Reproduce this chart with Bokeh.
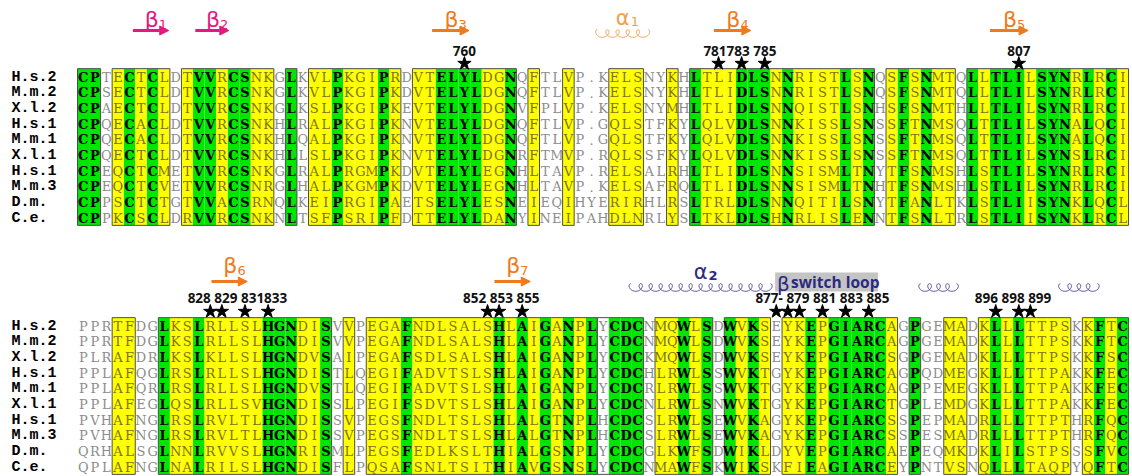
import numpy as np
from bokeh.plotting import figure
from bokeh.models import Range1d, Arrow, NormalHead
from bokeh.embed import file_html
from bokeh.resources import INLINE
from bokeh.core.properties import value

# ---------------- data ----------------
names = ["H.s.2", "M.m.2", "X.l.2", "H.s.1", "M.m.1", "X.l.1", "H.s.1", "M.m.3", "D.m.", "C.e."]

top_seqs = [
    "CPTECTCLDTVVRCSNKGLKVLPKGIPRDVTELYLDGNQFTLVP.KELSNYKHLTLIDLSNNRISTLSNQSFSNMTQLLTLILSYNRLRCI",
    "CPSECTCLDTVVRCSNKGLKVLPKGIPKDVTELYLDGNQFTLVP.KELSNYKHLTLIDLSNNRISTLSNQSFSNMTQLLTLILSYNRLRCI",
    "CPAECTCLDTVVRCSNKGLKSLPKGIPKEVTELYLDGNVFPLVP.KELSNYMHLTLIDLSNNQISTLSNHSFSNMTHLLTLILSYNRLRCI",
    "CPQECACLDTVVRCSNKHLRALPKGIPKNVTELYLDGNQFTLVP.GQLSTFKYLQLVDLSNNKISSLSNSSFTNMSQLTTLILSYNALQCI",
    "CPQECACLDTVVRCSNKHLQALPKGIPKNVTELYLDGNQFTLVP.GQLSTFKYLQLVDLSNNKISSLSNSSFTNMSQLTTLILSYNALQCI",
    "CPQECTCLDTVVRCSNKHLLSLPKGIPKNVTELYLDGNRFTMVP.RQLSSFKYLQLVDLSNNKISSLSNSSFTNMSQLTTLILSYNSLRCI",
    "CPEQCTCMETVVRCSNKGLRALPRGMPKDVTELYLEGNHLTAVP.RELSALRHLTLIDLSNNSISMLTNYTFSNMSHLSTLILSYNRLRCI",
    "CPEQCTCVETVVRCSNRGLHALPKGMPKDVTELYLEGNHLTAVP.KELSAFRQLTLIDLSNNSISMLTNHTFSNMSHLSTLILSYNRLRCI",
    "CPPSCTCTGTVVACSRNQLKEIPRGIPAETSELYLESNEIEQIHYERIRHLRSLTRLDLSNNQITILSNYTFANLTKLSTLIISYNKLQCL",
    "CPPKCSCLDRVVRCSNKNLTSFPSRIPFDTTELYLDANYINEIPAHDLNRLYSLTKLDLSHNRLISLENNTFSNLTRLSTLIISYNKLRCL",
]
bottom_seqs = [
    "PPRTFDGLKSLRLLSLHGNDISVVPEGAFNDLSALSHLAIGANPLYCDCNMQWLSDWVKSEYKEPGIARCAGPGEMADKLLLTTPSKKFTC",
    "PPRTFDGLKSLRLLSLHGNDISVVPEGAFNDLSALSHLAIGANPLYCDCNMQWLSDWVKSEYKEPGIARCAGPGEMADKLLLTTPSKKFTC",
    "PLRAFDRLKSLKLLSLHGNDVSAIPEGAFSDLSALSHLAIGANPLYCDCKMQWLSDWVKSEYKEPGIARCSGPGEMADKLLLTTPSKKFSC",
    "PPLAFQGLRSLRLLSLHGNDISTLQEGIFADVTSLSHLAIGANPLYCDCHLRWLSSWVKTGYKEPGIARCAGPQDMEGKLLLTTPAKKFEC",
    "PPLAFQRLRSLRLLSLHGNDVSTLQEGIFADVTSLSHLAIGANPLYCDCRLRWLSSWVKTGYKEPGIARCAGPPEMEGKLLLTTPAKKFEC",
    "PPLAFEGLQSLRLLSVHGNDISSLPEGIFSDVTSLSHLAIGANPLYCDCNLRWLSNWVKTGYKEPGIARCTGPLEMDGKLLLTTPAKKFEC",
    "PVHAFNGLRSLRVLTLHGNDISSVPEGSFNDLTSLSHLALGTNPLHCDCSLRWLSEWVKAGYKEPGIARCSSPEPMADRLLLTTPTHRFQC",
    "PVHAFNGLRSLRVLTLHGNDISSVPEGSFNDLTSLSHLALGTNPLHCDCSLRWLSEWVKAGYKEPGIARCSSPESMADRLLLTTPTHRFQC",
    "QRHALSGLNNLRVVSLHGNRISMLPEGSFEDLKSLTHIALGSNPLYCDCGLKWFSDWIKLDYVEPGIARCAEPEQMKDKLILSTPSSSFVC",
    "QPLAFNGLNALRILSLHGNDISFLPQSAFSNLTSITHIAVGSNSLYCDCNMAWFSKWIKSKFIEAGIARCEYPNTVSNQLLLTAQPYQFTC",
]

# column shading: G = identical (green), Y = similar (yellow), W = none
top_cons = ("GGWYGYGYWY" "GGYGGYYWGW" "YYGYYYGYWY" "YGGGGYYGWY" "WWYWWWYYYW"
            "WYWGYYYGGG" "YGYYYYGYGW" "YGYGYYWGYG" "GGYGGGYGYG" "Y")
bottom_cons = ("WWWYYWWGYY" "GYYYYYGGGY" "YGWYWYYYGY" "YYYYYYGYGY" "GYGYGWGGGW"
               "YYGYGWGYGY" "WYYGYGGGGG" "YWGWWYYWYG" "YGYYYYWYGY" "G")

# framed column runs (first, last column, 1-based)
top_boxes = [(1, 2), (4, 8), (10, 17), (19, 19), (21, 28), (30, 38), (40, 40), (43, 43),
             (47, 49), (52, 52), (54, 69), (71, 76), (78, 91)]
bottom_boxes = [(4, 5), (8, 22), (24, 24), (26, 45), (46, 49), (51, 55), (57, 60), (62, 71),
                (73, 73), (76, 77), (79, 86), (88, 91)]

# starred residues (column) and their numbering labels
top_stars = [34, 56, 58, 60, 82]
top_numbers = [("760", 34, 34), ("781783  785", 56, 60), ("807", 82, 82)]
bottom_stars = [12, 13, 15, 17, 36, 37, 39, 61, 62, 63, 65, 67, 69, 80, 82, 83]
bottom_numbers = [("828  829 831833", 12, 17), ("852  853  855", 36, 39),
                  ("877- 879 881 883 885", 61, 69), ("896 898 899", 80, 83)]

# secondary structure: (kind, label, subscript, start edge, end edge, colour)
top_ss = [("strand", "β", "1", 4.8, 7.9, "#e4197d"),
          ("strand", "β", "2", 10.2, 13.1, "#e4197d"),
          ("strand", "β", "3", 30.7, 33.9, "#ee7a1c"),
          ("helix", "α", "1", 45.0, 49.4, "#f0a050"),
          ("strand", "β", "4", 55.1, 58.3, "#ee7a1c"),
          ("strand", "β", "5", 79.0, 82.3, "#ee7a1c")]
bottom_ss = [("strand", "β", "6", 11.6, 14.7, "#ee7a1c"),
             ("strand", "β", "7", 36.1, 39.2, "#ee7a1c"),
             ("helix", "α", "2", 47.9, 60.0, "#4a479a"),
             ("helix", "", "", 73.0, 76.1, "#4a479a"),
             ("helix", "", "", 85.1, 88.3, "#4a479a")]
switch_loop = ("β", "switch loop", 60.4, 69.3)

# ---------------- layout ----------------
W, H = 1132, 476
X0, CW = 77.0, 11.55      # left edge of alignment, column width (px)
RH = 15.67                # row height
TOP_Y0, BOT_Y0 = 76.0, 325.0   # centre of first row of each block

GREEN, YELLOW = "#00e600", "#ffff00"
C_SIM, C_NONE = "#7d7312", "#8c8c8c"
NAVY = "#2b2a7f"
RES_FONT = "DejaVu Serif"

p = figure(width=W, height=H, x_range=Range1d(0, W), y_range=Range1d(H, 0),
           output_backend="svg", toolbar_location=None, min_border=0,
           x_axis_type=None, y_axis_type=None)
p.grid.visible = False
p.outline_line_color = None
p.background_fill_color = "white"


def cx(c):  # centre of 1-based column
    return X0 + (c - 0.5) * CW


def ex(e):  # 0-based column edge
    return X0 + e * CW


def draw_block(seqs, cons, boxes, y0):
    n = len(seqs)
    top = y0 - RH / 2
    bot = y0 + (n - 0.5) * RH
    for cls, col in (("G", GREEN), ("Y", YELLOW)):
        cols = [i + 1 for i, k in enumerate(cons) if k == cls]
        p.quad(left=[ex(c - 1) for c in cols], right=[ex(c) for c in cols],
               top=[top] * len(cols), bottom=[bot] * len(cols),
               fill_color=col, line_color=None)
    p.quad(left=[ex(a - 1) for a, b in boxes], right=[ex(b) for a, b in boxes],
           top=[top] * len(boxes), bottom=[bot] * len(boxes),
           fill_color=None, line_color="#4d4d4d", line_width=1)
    for cls, color, style in (("G", "black", "bold"), ("Y", C_SIM, "normal"), ("W", C_NONE, "normal")):
        xs, ys, ts = [], [], []
        for r, s in enumerate(seqs):
            for i, ch in enumerate(s):
                if cons[i] == cls:
                    xs.append(cx(i + 1)); ys.append(y0 + r * RH + 0.5); ts.append(ch)
        p.text(x=xs, y=ys, text=ts, text_font=value(RES_FONT),
               text_font_size="13px", text_font_style=style, text_color=color,
               text_align="center", text_baseline="middle")
    p.text(x=[11] * n, y=[y0 + r * RH + 0.5 for r in range(n)], text=names,
           text_font=value("Liberation Mono"), text_font_size="15px",
           text_font_style="bold", text_color="black",
           text_align="left", text_baseline="middle")


def draw_marks(stars, numbers, ystar, ynum):
    p.scatter(x=[cx(c) for c in stars], y=[ystar] * len(stars), marker="star",
              size=14, fill_color="black", line_color="black")
    p.text(x=[(cx(a) + cx(b)) / 2 for t, a, b in numbers], y=[ynum] * len(numbers),
           text=[t for t, a, b in numbers], text_font=value("Open Sans"),
           text_font_size="13.5px", text_font_style="bold", text_color="#111111",
           text_align="center", text_baseline="middle")


def coil(x1, x2, yc, color):
    n = max(2, int(round((x2 - x1) / 10.0)))
    a = (x2 - x1) / (2 * np.pi * n)
    b = 3.8
    t = np.linspace(0, 2 * np.pi * n, 60 * n)
    xs = x1 + a * t - b * np.sin(t)
    ys = yc - b * np.cos(t)
    p.line(xs, ys, line_color=color, line_width=1)


def draw_ss(items, ytext, yarrow, ycoil):
    for kind, lab, sub, s, e, color in items:
        x1, x2 = ex(s), ex(e)
        xm = (x1 + x2) / 2
        if kind == "strand":
            p.add_layout(Arrow(end=NormalHead(size=9, fill_color=color, line_color=color),
                               x_start=x1, y_start=yarrow, x_end=x2, y_end=yarrow,
                               line_color=color, line_width=3))
            p.text(x=[xm + 1], y=[ytext], text=[lab], text_font=value("DejaVu Sans"),
                   text_font_size="22px", text_color=color, text_align="center",
                   text_baseline="middle")
            p.text(x=[xm + 8], y=[ytext + 5], text=[sub], text_font=value("DejaVu Sans"),
                   text_font_size="13px", text_color=color, text_align="left",
                   text_baseline="middle")
        else:
            coil(x1, x2, ycoil, color)
            if lab:
                sub_color = color if color == "#f0a050" else NAVY
                lab_color = color if color == "#f0a050" else NAVY
                p.text(x=[xm], y=[ycoil - 16], text=[lab], text_font=value("DejaVu Sans"),
                       text_font_size="21px", text_color=lab_color, text_align="center",
                       text_baseline="middle")
                p.text(x=[xm + 8], y=[ycoil - 12], text=[sub], text_font=value("DejaVu Sans"),
                       text_font_size="13px",
                       text_font_style="normal" if color == "#f0a050" else "bold",
                       text_color=sub_color, text_align="left", text_baseline="middle")


draw_block(top_seqs, top_cons, top_boxes, TOP_Y0)
draw_block(bottom_seqs, bottom_cons, bottom_boxes, BOT_Y0)
draw_marks(top_stars, top_numbers, 63, 50)
draw_marks(bottom_stars, bottom_numbers, 311, 297)
draw_ss(top_ss, 19, 30, 33)
draw_ss(bottom_ss, 265, 281, 287)

# beta switch loop label
g, txt, s, e = switch_loop
p.quad(left=[ex(s)], right=[ex(e)], top=[272], bottom=[291], fill_color="#c4c4c4", line_color=None)
p.text(x=[ex(s) + 2], y=[283], text=[g], text_font=value("DejaVu Sans"), text_font_size="20px",
       text_color=NAVY, text_align="left", text_baseline="middle")
p.text(x=[ex(s) + 16], y=[281], text=[txt], text_font=value("Open Sans"), text_font_size="15.5px",
       text_font_style="bold", text_color=NAVY, text_align="left", text_baseline="middle")

open("out.html", "w").write(file_html(p, INLINE))
